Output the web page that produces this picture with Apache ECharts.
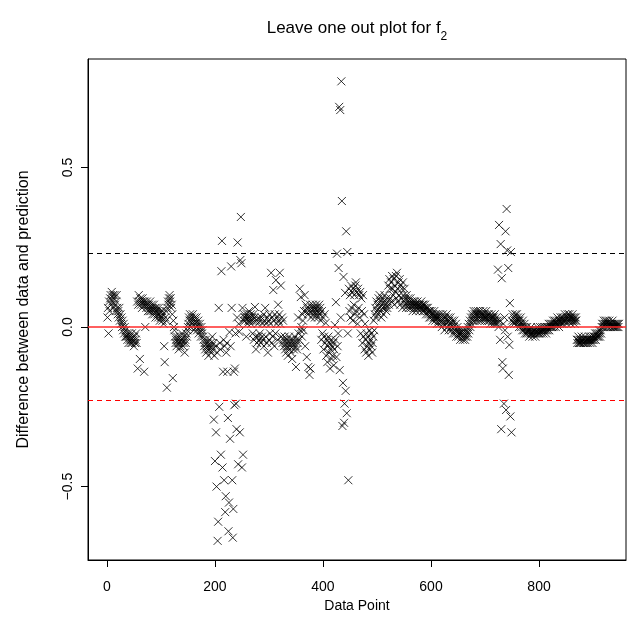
<!DOCTYPE html>
<html>
<head>
<meta charset="utf-8">
<script src="https://cdn.jsdelivr.net/npm/echarts@6/dist/echarts.min.js"></script>
<style>
  html, body { margin: 0; padding: 0; background: #fff; }
  #chart { width: 634px; height: 635px; }
</style>
</head>
<body>
<div id="chart"></div>
<script>
// leave-one-out differences, one value per data point (index 1..n)
const diffs = [
  0.03, 0.06, -0.02, 0.08, 0.05, 0.09, 0.1, 0.07, 0.11, 0.08,
  0.1, 0.06, 0.09, 0.1, 0.07, 0.05, 0.08, 0.1, 0.06, 0.04,
  0.05, 0.03, 0.06, 0.02, 0.04, 0.01, 0.03, 0.0, 0.02, -0.01,
  0.01, -0.02, 0.0, -0.03, -0.01, -0.03, -0.02, -0.04, -0.03, -0.05,
  -0.02, -0.04, -0.03, -0.05, -0.04, -0.02, -0.05, -0.03, -0.04, -0.06,
  -0.03, -0.05, -0.04, -0.02, -0.05, 0.08, -0.13, 0.07, 0.1, 0.08,
  -0.1, 0.09, 0.07, 0.08, 0.06, 0.09, 0.08, 0.07, -0.14, 0.08,
  0.0, 0.07, 0.06, 0.08, 0.07, 0.05, 0.06, 0.07, 0.05, 0.08,
  0.06, 0.05, 0.07, 0.04, 0.06, 0.05, 0.07, 0.04, 0.06, 0.03,
  0.05, 0.06, 0.04, 0.05, 0.03, 0.06, 0.04, 0.02, 0.05, 0.03,
  0.03, 0.05, 0.02, 0.04, 0.01, -0.06, -0.11, 0.03, 0.05, 0.02,
  -0.19, 0.06, 0.08, 0.07, 0.09, 0.1, 0.08, 0.09, 0.06, 0.07,
  0.04, -0.16, 0.02, 0.0, -0.01, -0.03, -0.05, -0.04, -0.06, -0.03,
  -0.05, -0.04, -0.07, -0.05, -0.03, -0.06, -0.04, -0.05, -0.02, -0.04,
  -0.06, -0.05, -0.03, -0.08, -0.04, -0.05, -0.02, -0.03, -0.01, 0.0,
  0.01, 0.03, 0.02, 0.04, 0.0, 0.02, 0.03, 0.01, 0.04, 0.02,
  -0.01, 0.03, 0.01, 0.02, 0.0, 0.03, -0.01, 0.01, 0.02, -0.02,
  0.0, 0.01, -0.01, -0.03, 0.0, -0.02, -0.01, -0.03, -0.04, -0.06,
  -0.05, -0.07, -0.04, -0.08, -0.06, -0.05, -0.07, -0.09, -0.06, -0.04,
  -0.07, -0.05, -0.08, -0.06, -0.03, -0.07, -0.05, -0.29, -0.09, -0.42,
  -0.06, -0.33, -0.5, -0.08, -0.67, -0.61, 0.06, -0.25, -0.05, -0.07,
  -0.4, 0.175, 0.27, -0.44, -0.14, -0.04, -0.48, -0.06, -0.58, -0.53,
  -0.08, -0.05, -0.14, -0.285, -0.64, -0.55, -0.016, -0.35, -0.06, 0.19,
  0.06, -0.48, -0.66, -0.57, -0.14, -0.245, -0.13, -0.02, -0.24, -0.32,
  0.03, 0.265, -0.43, 0.01, -0.015, -0.33, 0.21, 0.345, 0.2, -0.44,
  0.06, -0.4, 0.02, 0.04, 0.03, 0.02, 0.03, -0.03, 0.04, 0.01,
  0.03, 0.02, 0.05, 0.03, 0.02, 0.04, 0.01, 0.03, 0.02, -0.02,
  0.04, -0.04, 0.03, 0.063, -0.03, -0.07, 0.02, -0.05, 0.01, -0.03,
  0.03, -0.04, -0.02, 0.02, -0.05, 0.03, -0.03, 0.01, -0.04, 0.04,
  -0.06, 0.02, 0.06, -0.03, 0.01, -0.05, 0.03, -0.08, 0.02, -0.04,
  0.04, -0.02, 0.01, 0.17, -0.05, 0.03, -0.03, 0.116, 0.02, -0.06,
  0.04, -0.02, 0.147, 0.01, 0.03, -0.04, 0.07, 0.02, 0.04, 0.17,
  0.01, 0.13, -0.03, 0.03, -0.05, 0.02, -0.04, -0.06, -0.03, -0.07,
  -0.05, -0.08, -0.04, -0.06, -0.09, -0.05, -0.03, -0.07, -0.06, -0.04,
  -0.08, -0.05, -0.1, -0.06, -0.04, -0.07, -0.05, -0.03, -0.06, -0.125,
  -0.04, -0.07, -0.05, 0.03, -0.02, -0.04, 0.12, -0.01, 0.094, 0.0,
  -0.03, 0.04, 0.02, -0.01, 0.05, 0.1, -0.06, 0.07, 0.05, -0.094,
  0.06, 0.04, -0.125, 0.05, -0.15, 0.07, -0.13, 0.03, 0.06, 0.05,
  0.07, 0.04, 0.06, 0.05, 0.03, 0.06, 0.07, 0.04, 0.05, 0.06,
  0.03, 0.05, 0.07, 0.04, 0.06, 0.02, -0.04, 0.05, -0.02, 0.03,
  -0.07, -0.03, 0.04, -0.05, 0.013, -0.09, -0.04, -0.11, -0.06, -0.03,
  -0.08, -0.05, -0.13, -0.07, -0.04, -0.1, -0.06, -0.09, -0.05, -0.12,
  -0.07, 0.006, -0.04, 0.078, -0.094, 0.23, -0.06, -0.02, 0.185, 0.69,
  -0.135, 0.68, 0.03, 0.77, 0.395, -0.31, -0.175, 0.157, -0.3, -0.24,
  0.107, -0.2, 0.3, -0.27, 0.235, -0.02, -0.48, 0.12, 0.05, 0.1,
  0.03, 0.13, 0.06, 0.11, 0.02, 0.12, 0.07, 0.1, 0.04, 0.13,
  0.14, 0.05, 0.11, 0.01, 0.12, 0.06, 0.1, 0.03, 0.11, -0.02,
  0.09, 0.05, -0.05, 0.1, -0.03, 0.04, -0.07, 0.01, -0.04, -0.08,
  -0.02, -0.06, -0.03, -0.09, -0.05, -0.01, -0.07, -0.04, -0.06, -0.02,
  -0.08, -0.05, -0.03, 0.02, -0.01, 0.04, 0.06, 0.03, 0.08, 0.05,
  0.07, 0.04, 0.09, 0.06, 0.1, 0.05, 0.08, 0.03, 0.07, 0.09,
  0.06, 0.04, 0.08, 0.1, 0.06, 0.07, 0.05, 0.09, 0.06, 0.08,
  0.13, 0.07, 0.15, 0.12, 0.09, 0.14, 0.08, 0.16, 0.12, 0.1,
  0.15, 0.07, 0.13, 0.11, 0.16, 0.09, 0.17, 0.12, 0.08, 0.14,
  0.1, 0.15, 0.07, 0.13, 0.09, 0.12, 0.06, 0.14, 0.1, 0.08,
  0.12, 0.07, 0.09, 0.06, 0.1, 0.08, 0.07, 0.09, 0.06, 0.08,
  0.07, 0.09, 0.06, 0.08, 0.07, 0.05, 0.08, 0.07, 0.06, 0.08,
  0.07, 0.05, 0.07, 0.06, 0.08, 0.07, 0.06, 0.07, 0.05, 0.07,
  0.06, 0.08, 0.06, 0.07, 0.05, 0.07, 0.06, 0.05, 0.07, 0.06,
  0.04, 0.06, 0.05, 0.06, 0.04, 0.05, 0.03, 0.05, 0.04, 0.03,
  0.05, 0.04, 0.02, 0.04, 0.03, 0.05, 0.03, 0.02, 0.04, 0.03,
  0.01, 0.03, 0.04, 0.02, 0.03, 0.01, 0.04, 0.02, 0.03, 0.0,
  0.02, 0.04, 0.01, 0.03, -0.01, 0.02, 0.03, 0.01, 0.04, 0.0,
  0.02, 0.03, -0.01, 0.02, 0.01, 0.03, 0.0, -0.01, 0.02, 0.01,
  -0.02, 0.0, 0.02, -0.01, -0.02, 0.01, -0.03, -0.01, 0.0, -0.02,
  -0.03, -0.01, -0.02, -0.04, -0.02, -0.01, -0.03, -0.02, -0.04, -0.01,
  -0.03, -0.02, -0.04, -0.03, -0.01, -0.02, -0.03, 0.0, -0.02, 0.01,
  -0.01, 0.02, 0.0, 0.03, 0.01, 0.04, 0.02, 0.03, 0.05, 0.02,
  0.04, 0.03, 0.05, 0.04, 0.02, 0.04, 0.05, 0.03, 0.04, 0.02,
  0.05, 0.03, 0.04, 0.02, 0.04, 0.03, 0.05, 0.03, 0.04, 0.02,
  0.03, 0.05, 0.03, 0.04, 0.02, 0.03, 0.04, 0.02, 0.03, 0.01,
  0.03, 0.04, 0.02, 0.03, 0.01, 0.03, 0.02, 0.04, 0.01, 0.02,
  0.03, 0.01, 0.02, 0.18, 0.0, 0.32, 0.02, -0.04, 0.26, -0.32,
  0.153, -0.11, -0.13, 0.01, -0.24, 0.03, -0.01, 0.3, -0.26, 0.37,
  0.24, -0.03, 0.185, -0.15, -0.056, 0.075, -0.28, 0.235, -0.33, 0.02,
  0.04, 0.015, 0.03, 0.01, 0.02, 0.04, 0.03, 0.02, 0.04, 0.01,
  0.03, 0.02, 0.0, 0.02, 0.01, 0.03, 0.0, 0.01, -0.01, 0.02,
  0.0, -0.01, 0.01, -0.02, 0.0, -0.01, -0.02, 0.0, -0.01, -0.02,
  -0.01, -0.03, -0.01, -0.02, 0.0, -0.02, -0.01, -0.03, -0.02, -0.01,
  -0.02, -0.01, -0.03, -0.02, -0.01, -0.02, 0.0, -0.01, -0.02, -0.01,
  -0.02, 0.0, -0.01, -0.02, -0.01, 0.0, -0.01, -0.02, -0.01, 0.0,
  -0.01, 0.0, -0.02, -0.01, 0.0, -0.01, 0.0, 0.01, -0.01, 0.0,
  0.01, 0.0, 0.01, 0.0, 0.01, 0.02, 0.0, 0.01, 0.02, 0.01,
  0.0, 0.02, 0.01, 0.03, 0.01, 0.02, 0.0, 0.02, 0.01, 0.03,
  0.02, 0.01, 0.03, 0.02, 0.01, 0.03, 0.02, 0.04, 0.02, 0.03,
  0.01, 0.03, 0.04, 0.02, 0.03, 0.04, 0.02, 0.03, 0.01, 0.03,
  0.02, 0.04, 0.03, 0.02, 0.03, 0.01, 0.02, 0.03, 0.02, -0.04,
  -0.05, -0.04, -0.03, -0.05, -0.04, -0.05, -0.04, -0.05, -0.03, -0.04,
  -0.05, -0.04, -0.05, -0.04, -0.03, -0.05, -0.04, -0.05, -0.04, -0.04,
  -0.05, -0.04, -0.03, -0.04, -0.05, -0.04, -0.03, -0.04, -0.05, -0.04,
  -0.03, -0.04, -0.03, -0.02, -0.04, -0.03, -0.02, -0.03, -0.02, -0.03,
  -0.01, -0.02, -0.03, -0.01, -0.02, 0.0, 0.01, 0.0, 0.01, 0.02,
  0.0, 0.01, 0.02, 0.01, 0.0, 0.02, 0.01, 0.0, 0.01, 0.02,
  0.01, 0.0, 0.01, 0.0, 0.01, 0.02, 0.0, 0.01, 0.0, 0.01,
  0.0, 0.01, 0.0, 0.01, 0.0, 0.01, 0.0, 0.01
];

const xTicks = [0, 200, 400, 600, 800];
const yTicks = [-0.5, 0, 0.5];
const zeroLine = 0;
const bound = 0.233;   // dashed limits at +/- bound

const font = 'Liberation Sans, Arial, Helvetica, sans-serif';
const chart = echarts.init(document.getElementById('chart'));

const points = diffs.map((v, k) => [k + 1, v]);

// horizontal reference line across the whole plot
const refLine = (value, color, dash, width) => ({
  type: 'scatter',
  data: [],
  silent: true,
  z: 3,
  markLine: {
    silent: true,
    symbol: ['none', 'none'],
    label: { show: false },
    lineStyle: { color: color, width: width, type: dash, opacity: 1 },
    data: [{ yAxis: value }]
  }
});

const option = {
  animation: false,
  backgroundColor: '#fff',
  textStyle: { fontFamily: font, color: '#000' },
  graphic: [{
    type: 'text',
    x: 357,
    y: 15,
    style: {
      text: '{m|Leave one out plot for f}{s|2}',
      align: 'center',
      rich: {
        m: { fontSize: 17, fontFamily: font, fill: '#000', verticalAlign: 'bottom', lineHeight: 22 },
        s: { fontSize: 12, fontFamily: font, fill: '#000', verticalAlign: 'bottom', lineHeight: 12, padding: [0, 0, -6, 0] }
      }
    }
  }],
  grid: {
    left: 88, top: 59, width: 538, height: 501,
    show: true, borderColor: '#000', borderWidth: 1, backgroundColor: 'transparent'
  },
  xAxis: {
    type: 'value',
    min: -35, max: 961,
    name: 'Data Point',
    nameLocation: 'middle',
    nameGap: 33,
    nameTextStyle: { fontSize: 14, color: '#000', fontFamily: font },
    axisLine: { show: true, onZero: false, lineStyle: { color: '#000', width: 1 } },
    axisTick: { show: true, length: 7, customValues: xTicks, lineStyle: { color: '#000', width: 1 } },
    axisLabel: { customValues: xTicks, color: '#000', fontSize: 14, margin: 20, fontFamily: font },
    splitLine: { show: false }
  },
  yAxis: {
    type: 'value',
    min: -0.73, max: 0.84,
    name: 'Difference between data and prediction',
    nameLocation: 'middle',
    nameGap: 56,
    nameTextStyle: { fontSize: 16, color: '#000', fontFamily: font },
    axisLine: { show: true, onZero: false, lineStyle: { color: '#000', width: 1 } },
    axisTick: { show: true, length: 7, customValues: yTicks, lineStyle: { color: '#000', width: 1 } },
    axisLabel: {
      customValues: yTicks, rotate: 90, color: '#000', fontSize: 14, margin: 13, fontFamily: font,
      formatter: v => (v < 0 ? '\u2212' : '') + Math.abs(v).toFixed(1)
    },
    splitLine: { show: false }
  },
  series: [
    {
      type: 'scatter',
      data: points,
      symbol: 'path://M0,0L10,10M10,0L0,10',
      symbolSize: 8,
      itemStyle: { color: 'rgba(0,0,0,0)', borderColor: '#000', borderWidth: 1 },
      emphasis: { disabled: true },
      silent: true,
      z: 2
    },
    refLine(zeroLine, '#ff2a2a', 'solid', 1.6),
    refLine(bound, '#000000', [5, 4], 1),
    refLine(-bound, '#ff0000', [5, 4], 1)
  ]
};

chart.setOption(option);
</script>
</body>
</html>
